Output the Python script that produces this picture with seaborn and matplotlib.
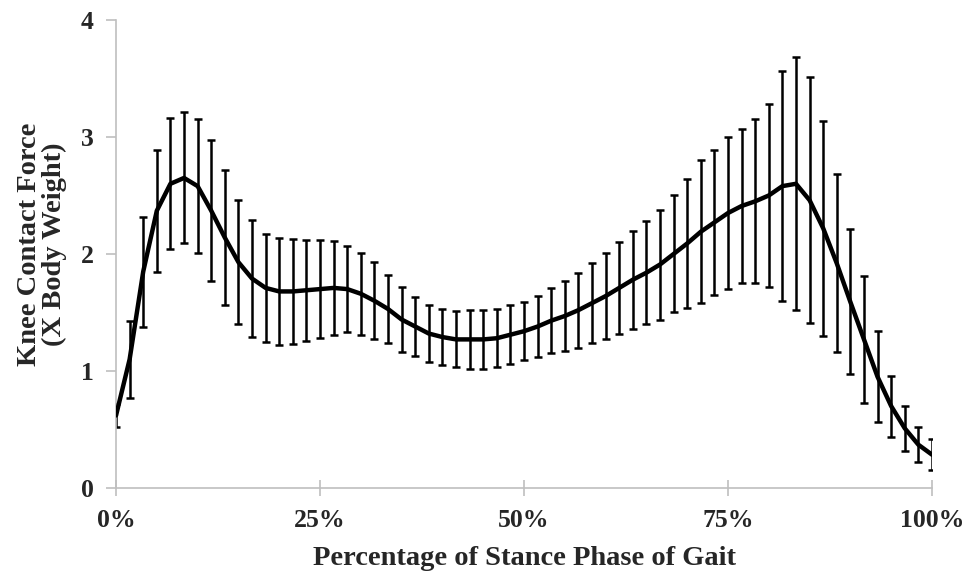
import numpy as np
import pandas as pd
import matplotlib
matplotlib.use("Agg")
import matplotlib.pyplot as plt
import seaborn as sns

# stance phase sampled in 61 steps (0..100 %)
stance_pct = np.linspace(0, 100, 61)

# mean knee contact force (x body weight)
force_mean = [0.62, 1.10, 1.85, 2.37, 2.60, 2.65, 2.58, 2.37, 2.14, 1.93,
              1.79, 1.71, 1.68, 1.68, 1.69, 1.70, 1.71, 1.70, 1.66, 1.60,
              1.53, 1.44, 1.38, 1.32, 1.29, 1.27, 1.27, 1.27, 1.28, 1.31,
              1.34, 1.38, 1.43, 1.47, 1.52, 1.58, 1.64, 1.71, 1.78, 1.84,
              1.91, 2.00, 2.09, 2.19, 2.27, 2.35, 2.41, 2.45, 2.50, 2.58,
              2.60, 2.46, 2.22, 1.92, 1.59, 1.27, 0.95, 0.70, 0.51, 0.37,
              0.285]

# standard deviation (half length of each error bar)
force_sd = [0.10, 0.33, 0.47, 0.52, 0.56, 0.56, 0.57, 0.60, 0.58, 0.53,
            0.50, 0.46, 0.46, 0.45, 0.43, 0.42, 0.40, 0.37, 0.35, 0.33,
            0.29, 0.28, 0.25, 0.24, 0.24, 0.24, 0.25, 0.25, 0.25, 0.25,
            0.25, 0.26, 0.28, 0.30, 0.32, 0.34, 0.37, 0.39, 0.42, 0.44,
            0.47, 0.50, 0.55, 0.61, 0.62, 0.65, 0.66, 0.70, 0.78, 0.98,
            1.08, 1.05, 0.92, 0.76, 0.62, 0.54, 0.39, 0.26, 0.19, 0.15,
            0.135]

x_ticks = [0, 25, 50, 75, 100]
x_ticklabels = ["0%", "25%", "50%", "75%", "100%"]
y_ticks = [0, 1, 2, 3, 4]

df = pd.DataFrame({"pct": stance_pct, "force": force_mean, "sd": force_sd})

sns.set_style("white")
plt.rcParams['font.family'] = ['Liberation Serif', 'DejaVu Serif']
plt.rcParams['font.weight'] = 'bold'

fig = plt.figure(figsize=(9.71, 5.76), dpi=100)
ax = fig.add_axes([0.1195, 0.1528, 0.8403, 0.8125])

# error bars first, mean curve on top
ax.errorbar(df['pct'], df['force'], yerr=df['sd'], fmt='none', ecolor='black',
            elinewidth=1.8, capsize=3, capthick=1.8, zorder=2)
sns.lineplot(data=df, x='pct', y='force', color='black', linewidth=3.2, ax=ax, zorder=3)

ax.set_xlim(0, 100)
ax.set_ylim(0, 4)
ax.set_xticks(x_ticks)
ax.set_xticklabels(x_ticklabels)
ax.set_yticks(y_ticks)

spine_col = '#bfbfbf'
for s in ['top', 'right']:
    ax.spines[s].set_visible(False)
for s in ['left', 'bottom']:
    ax.spines[s].set_color(spine_col)
    ax.spines[s].set_linewidth(1.2)

ax.tick_params(axis='y', direction='out', length=7, width=1.2, color=spine_col,
               labelsize=18.5, pad=9, left=True)
ax.tick_params(axis='x', direction='inout', length=12, width=1.2, color=spine_col,
               labelsize=18.5, pad=9, bottom=True)
for lab in ax.get_xticklabels() + ax.get_yticklabels():
    lab.set_fontweight('bold')

ax.set_xlabel("Percentage of Stance Phase of Gait", fontsize=20.5, fontweight='bold')
ax.set_ylabel("Knee Contact Force\n(X Body Weight)", fontsize=20.5, fontweight='bold',
              linespacing=1.0)
ax.xaxis.set_label_coords(0.5, -0.125)
ax.yaxis.set_label_coords(-0.06, 0.52)
ax.grid(False)

plt.savefig('out.png', dpi=100)
plt.close()
